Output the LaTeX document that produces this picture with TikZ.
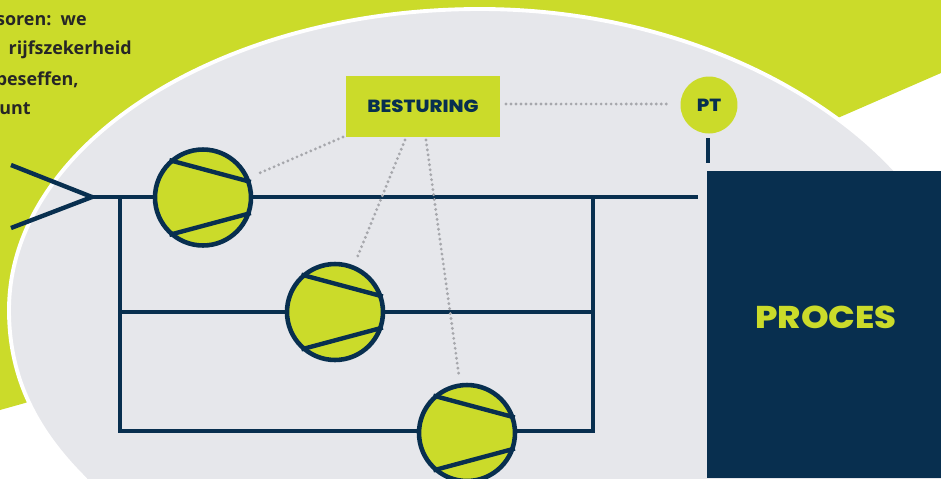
\documentclass[tikz,border=0pt]{standalone}
\usepackage{fontspec}
\setmainfont{Poppins}[BoldFont=Poppins ExtraBold, BoldFeatures={FakeStretch=1.12}]
\newfontfamily\notefont{Open Sans}
\usetikzlibrary{positioning}

\definecolor{limegreen}{HTML}{CBDB2A}
\definecolor{navyblue}{HTML}{082F4F}
\definecolor{palegrey}{HTML}{E6E7EB}
\definecolor{dotgrey}{HTML}{A6A7AC}

\begin{document}
\begin{tikzpicture}[
    x=0.02cm, y=-0.02cm,
    pipe/.style = {line width=2.5pt, draw=navyblue},
    signal/.style = {line width=1.8pt, draw=dotgrey, line cap=round, dash pattern=on 0pt off 2.85pt},
    pump/.style = {
        circle,
        inner sep=0pt,
        minimum size=1.92cm,
        draw=navyblue,
        line width=2.6pt,
        fill=limegreen
    },
    control/.style = {
        rectangle,
        inner sep=0pt,
        minimum width=3.08cm,
        minimum height=1.22cm,
        fill=limegreen,
        text=navyblue,
        font=\bfseries\fontsize{10}{12}\selectfont
    },
    sensor/.style = {control, circle, minimum width=1.14cm, minimum height=1.14cm},
    process/.style = {
        rectangle,
        inner sep=0pt,
        minimum width=4.68cm,
        minimum height=6.14cm,
        fill=navyblue
    },
    processlabel/.style = {inner sep=0pt, text=limegreen, font=\bfseries\fontsize{17.9}{20}\selectfont},
    note/.style = {anchor=east, inner sep=0pt, text=black!85, font=\notefont\bfseries\fontsize{10.2}{12}\selectfont}
]

    % canvas
    \useasboundingbox (0,0) rectangle (941,478);
    \clip (0,0) rectangle (941,478);

    % === BACKGROUND ===
    \fill[limegreen] (0,0) -- (941,0) -- (941,73) -- (840,117) -- (25,403) -- (0,410) -- cycle;
    \draw[white, line width=2.2pt, fill=palegrey] (9,310)
        .. controls (9,144) and (221,9) .. (480,9)
        .. controls (750,9) and (970,170) .. (970,340)
        -- (970,520) -- (120,520) -- (84,478)
        .. controls (38,432) and (9,380) .. (9,310) -- cycle;

    % === NOTE ===
    \node[note] (line1) at (87,21) {soren:\ \ we};
    \node[note] (line2) at (132,50) {rijfszekerheid};
    \node[note] (line3) at (79,80) {beseffen,};
    \node[note] (line4) at (31,109) {unt};

    % === NODES ===
    \node[control] (control) at (423,106.5) {BESTURING};
    \node[sensor] (pt) at (709,105) {PT};
    \node[process] (proces) at (824,324.5) {};
    \node[processlabel] (proceslabel) at (826,317) {PROCES};
    \coordinate (inletA) at (11,165);
    \coordinate (inletB) at (11,228);
    \coordinate (inlet) at (92,197);
    \coordinate (mainend) at (698,197);
    \coordinate (ptstubA) at (708,138);
    \coordinate (ptstubB) at (708,163);
    \coordinate (leftA) at (120,197);
    \coordinate (leftB) at (120,312);
    \coordinate (leftC) at (120,431);
    \coordinate (rightA) at (593,197);
    \coordinate (rightB) at (593,312);
    \coordinate (rightC) at (593,431);
    \coordinate (tapPt) at (506,104);
    \coordinate (ptEnd) at (671,104);
    \coordinate (tap1) at (343,137);
    \coordinate (tap2) at (405,140);
    \coordinate (tap3) at (426,140);

    % === PIPES ===
    \draw[pipe] (inletA) -- (inlet) -- (inletB);
    \draw[pipe] (inlet) -- (mainend);
    \draw[pipe] (leftA) -- (leftC) -- (rightC) -- (rightA);
    \draw[pipe] (leftB) -- (rightB);
    \draw[pipe] (ptstubA) -- (ptstubB);

    % === PUMPS ===
    \node[pump] (pump1) at (203,197.5) {};
    \node[pump] (pump2) at (335,312) {};
    \node[pump] (pump3) at (467,433) {};

    \draw[pipe] (pump1.132) -- (pump1.18);
    \draw[pipe] (pump1.228) -- (pump1.-18);
    \draw[pipe] (pump2.132) -- (pump2.18);
    \draw[pipe] (pump2.228) -- (pump2.-18);
    \draw[pipe] (pump3.132) -- (pump3.18);
    \draw[pipe] (pump3.228) -- (pump3.-18);

    % === SIGNAL LINES ===
    \draw[signal] (tapPt) -- (ptEnd);
    \draw[signal, shorten >=1.15cm] (tap1) -- (pump1.center);
    \draw[signal, shorten >=1.15cm] (tap2) -- (pump2.center);
    \draw[signal, shorten >=1.15cm] (tap3) -- (pump3.center);

\end{tikzpicture}
\end{document}
